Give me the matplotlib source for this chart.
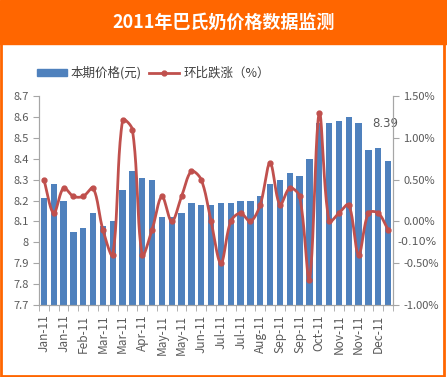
import matplotlib.pyplot as plt
import numpy as np
from matplotlib.patches import Rectangle
from matplotlib.lines import Line2D

plt.rcParams['font.family'] = ['Noto Sans CJK SC', 'DejaVu Sans']

# 36 periods (weekly), labels on every second bar
etiquetas = ['Jan-11', 'Jan-11', 'Feb-11', 'Mar-11', 'Mar-11', 'Apr-11',
             'May-11', 'May-11', 'Jun-11', 'Jul-11', 'Jul-11', 'Aug-11',
             'Sep-11', 'Sep-11', 'Oct-11', 'Nov-11', 'Nov-11', 'Dec-11']

precio = [8.21, 8.28, 8.20, 8.05, 8.07, 8.14, 8.08, 8.10, 8.25, 8.34,
          8.31, 8.30, 8.12, 8.12, 8.14, 8.19, 8.18, 8.18, 8.19, 8.19,
          8.20, 8.20, 8.22, 8.28, 8.30, 8.33, 8.32, 8.40, 8.57, 8.57,
          8.58, 8.60, 8.57, 8.44, 8.45, 8.39]

cambio = [0.50, 0.10, 0.40, 0.30, 0.30, 0.40, -0.10, -0.40, 1.21, 1.10,
          -0.40, -0.10, 0.30, 0.00, 0.30, 0.60, 0.50, 0.00, -0.50, 0.00,
          0.10, 0.00, 0.20, 0.70, 0.20, 0.40, 0.30, -0.70, 1.30, 0.00,
          0.10, 0.20, -0.40, 0.10, 0.10, -0.10]

naranja = '#FF6600'
azul = '#4F81BD'
rojo = '#C0504D'
gris = '#595959'


def suavizar(x, y, sx=9.83, sy=83.6, n=24):
    # curva suavizada tipo Excel: Bezier con tangentes ponderadas
    # por el largo de los tramos (en pixeles)
    p = np.column_stack([np.asarray(x) * sx, np.asarray(y) * sy]).astype(float)
    xs, ys = [], []
    t = np.linspace(0, 1, n)
    for i in range(len(p) - 1):
        p0 = p[i - 1] if i > 0 else p[i]
        p1 = p[i]
        p2 = p[i + 1]
        p3 = p[i + 2] if i + 2 < len(p) else p[i + 1]
        d01 = np.hypot(*(p1 - p0))
        d12 = np.hypot(*(p2 - p1))
        d23 = np.hypot(*(p3 - p2))
        c1 = p1 + (p2 - p0) * d12 / (3 * (d01 + d12))
        c2 = p2 - (p3 - p1) * d12 / (3 * (d12 + d23))
        b = (((1 - t) ** 3)[:, None] * p1 + (3 * (1 - t) ** 2 * t)[:, None] * c1
             + (3 * (1 - t) * t ** 2)[:, None] * c2 + (t ** 3)[:, None] * p2)
        xs.extend(b[:, 0] / sx)
        ys.extend(b[:, 1] / sy)
    return np.array(xs), np.array(ys)


fig = plt.figure(figsize=(4.47, 3.77), dpi=100)

# marco y barra del titulo
fig.patches.append(Rectangle((0, 0.882), 1, 0.118, transform=fig.transFigure,
                             color=naranja, zorder=0))
fig.patches.append(Rectangle((0.002, 0.003), 0.991, 0.99, transform=fig.transFigure,
                             fill=False, edgecolor=naranja, lw=2, zorder=0))
fig.text(0.5, 0.941, '2011年巴氏奶价格数据监测', color='white', fontsize=13,
         fontweight='bold', ha='center', va='center')

ax = fig.add_axes([0.0872, 0.191, 0.792, 0.554])
x = np.arange(len(precio))
ax.bar(x, precio, width=0.65, color=azul, zorder=1)
ax.set_xlim(-0.5, len(precio) - 0.5)
ax.set_ylim(7.7, 8.7)
yt = np.round(np.arange(7.7, 8.71, 0.1), 1)
ax.set_yticks(yt)
ax.set_yticklabels([('%g' % v) for v in yt])
ax.set_xticks(x[::2])
ax.set_xticklabels(etiquetas, rotation=90)
ax.set_xticks(np.arange(-0.5, len(precio), 1), minor=True)
ax.tick_params(axis='x', which='major', length=0, pad=7, labelsize=8.5, labelcolor=gris)
ax.tick_params(axis='x', which='minor', length=4, color='#A6A6A6')
ax.tick_params(axis='y', length=4, color='#A6A6A6', labelsize=8, labelcolor=gris)
ax.annotate('%.2f' % precio[-1], (x[-1], precio[-1]), xytext=(-2, 22),
            textcoords='offset points', ha='center', va='bottom',
            fontsize=8.5, color=gris, family='DejaVu Sans')

ax2 = ax.twinx()
xs, ys = suavizar(x, cambio)
ax2.plot(xs, ys, color=rojo, lw=2, zorder=3)
ax2.plot(x, cambio, 'o', color=rojo, ms=3.5, zorder=4)
ax2.set_ylim(-1.0, 1.5)
rt = [-1.0, -0.5, 0.0, 0.5, 1.0, 1.5]
ax2.set_yticks(rt)
ax2.set_yticklabels(['%.2f%%' % v for v in rt])
ax2.tick_params(axis='y', length=4, color='#A6A6A6', labelsize=8, labelcolor=gris)
ax2.text(1.012, -0.25, '-0.10%', transform=ax2.get_yaxis_transform(),
         fontsize=8, color=gris, va='center', ha='left', family='DejaVu Sans')

for a in (ax, ax2):
    a.spines['top'].set_visible(False)
    for s in ('left', 'right', 'bottom'):
        a.spines[s].set_color('#A6A6A6')

handles = [Rectangle((0, 0), 1, 1, color=azul),
           Line2D([], [], color=rojo, lw=2, marker='o', ms=3.5)]
fig.legend(handles, ['本期价格(元)', '环比跌涨（%）'], loc='center left',
           bbox_to_anchor=(0.058, 0.806), ncol=2, frameon=False, fontsize=9,
           handlelength=2.4, handleheight=0.6, handletextpad=0.3,
           columnspacing=0.6, labelcolor='#404040')

fig.savefig('out.png', dpi=100)
